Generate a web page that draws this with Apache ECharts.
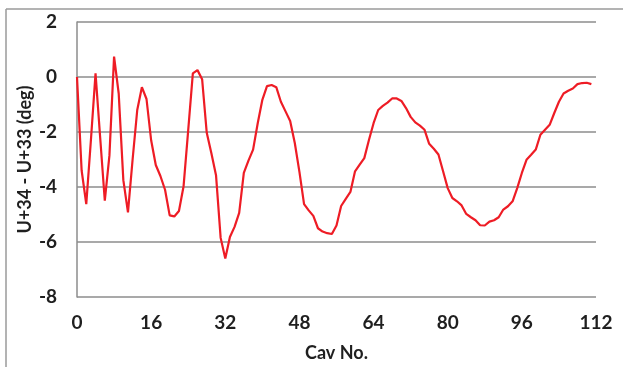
<!DOCTYPE html>
<html>
<head>
<meta charset="utf-8">
<script src="https://cdn.jsdelivr.net/npm/echarts@6/dist/echarts.min.js"></script>
<style>html,body{margin:0;padding:0;background:#fff;}#c{width:623px;height:367px;}</style>
</head>
<body>
<div id="c"></div>
<script>
const xTicks = [0, 16, 32, 48, 64, 80, 96, 112];
const yTicks = [-8, -6, -4, -2, 0, 2];
const cavNo = [];
for (let i = 0; i <= 111; i++) cavNo.push(i);
const diffDeg = [
  0, -3.4, -4.62, -2.3, 0.13, -2.2, -4.5, -2.85, 0.74, -0.6,
  -3.75, -4.92, -3.0, -1.2, -0.37, -0.8, -2.3, -3.2, -3.6, -4.1,
  -5.03, -5.07, -4.87, -3.97, -1.93, 0.13, 0.25, -0.08, -2.03, -2.77,
  -3.57, -5.85, -6.6, -5.82, -5.45, -4.94, -3.49, -3.04, -2.64, -1.68,
  -0.83, -0.33, -0.29, -0.37, -0.9, -1.25, -1.6, -2.4, -3.45, -4.62,
  -4.85, -5.05, -5.5, -5.62, -5.68, -5.71, -5.4, -4.69, -4.43, -4.18,
  -3.43, -3.19, -2.95, -2.29, -1.68, -1.2, -1.05, -0.93, -0.78, -0.78,
  -0.87, -1.13, -1.45, -1.65, -1.77, -1.92, -2.43, -2.61, -2.82, -3.43,
  -4.04, -4.4, -4.52, -4.67, -4.98, -5.1, -5.21, -5.39, -5.4, -5.26,
  -5.21, -5.1, -4.82, -4.7, -4.52, -4.04, -3.49, -3.01, -2.83, -2.64,
  -2.1, -1.92, -1.74, -1.31, -0.9, -0.6, -0.5, -0.42, -0.26, -0.22,
  -0.21, -0.26
];
const xName = 'Cav No.';
const yName = 'U+34 - U+33 (deg)';

const chart = echarts.init(document.getElementById('c'), null, {renderer: 'canvas'});
const font = 'Lato';
const txt = {fontFamily: font, fontWeight: 'bold', fontSize: 19, color: '#1f1f1f'};
chart.setOption({
  animation: false,
  backgroundColor: '#fff',
  grid: {left: 77, right: 27, top: 22, bottom: 69, containLabel: false},
  graphic: [
    {type: 'line', shape: {x1: 6, y1: 9, x2: 623, y2: 9}, style: {stroke: '#9a9a9a', lineWidth: 1.5}},
    {type: 'line', shape: {x1: 6, y1: 9, x2: 6, y2: 367}, style: {stroke: '#9a9a9a', lineWidth: 1.5}}
  ],
  xAxis: {
    type: 'value', min: xTicks[0], max: xTicks[xTicks.length - 1], interval: 16,
    name: xName, nameLocation: 'middle', nameGap: 47, nameMoveOverlap: false,
    nameTextStyle: Object.assign({}, txt, {fontSize: 18}),
    axisLine: {show: false, onZero: false},
    axisTick: {show: false},
    axisLabel: Object.assign({margin: 16}, txt),
    splitLine: {show: false}
  },
  yAxis: {
    type: 'value', min: yTicks[0], max: yTicks[yTicks.length - 1], interval: 2,
    name: yName, nameLocation: 'middle', nameGap: 43, nameRotate: 90, nameMoveOverlap: false,
    nameTextStyle: Object.assign({}, txt, {fontSize: 18}),
    axisLine: {show: true, lineStyle: {color: '#8c8c8c', width: 1.5}},
    axisTick: {show: false},
    axisLabel: Object.assign({margin: 20}, txt),
    splitLine: {show: true, lineStyle: {color: '#8c8c8c', width: 1.5}}
  },
  series: [{
    type: 'line',
    data: cavNo.map((c, i) => [c, diffDeg[i]]),
    showSymbol: false,
    lineStyle: {color: '#ee1c25', width: 2.2},
    itemStyle: {color: '#ee1c25'}
  }]
});
</script>
</body>
</html>
